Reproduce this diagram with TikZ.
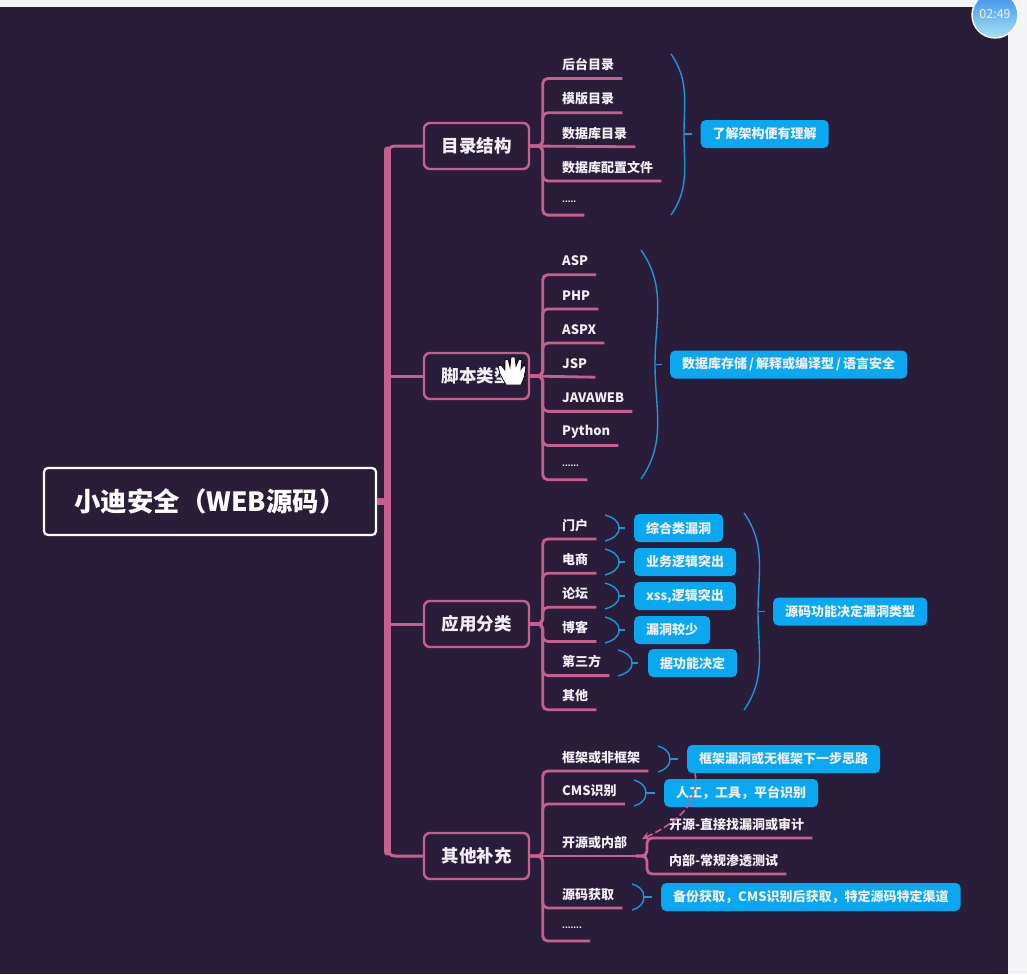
\documentclass[tikz,border=0pt]{standalone}
\usepackage{fontspec}
\setmainfont{Noto Sans CJK SC}
\usetikzlibrary{positioning, arrows.meta}
\definecolor{canvas}{HTML}{2A1D3A}
\definecolor{strip}{HTML}{F5F4F6}
\definecolor{rosy}{HTML}{C6618F}
\definecolor{sky}{HTML}{0AA8F0}
\definecolor{bracecol}{HTML}{1B97D8}
\definecolor{paper}{HTML}{F1EEF4}
\definecolor{badgetop}{HTML}{3A8CEA}
\definecolor{badgeend}{HTML}{A6E2F2}
\tikzset{
  root/.style={rectangle, rounded corners=4pt, draw=white, line width=2.2pt, minimum width=332pt, minimum height=67pt, text=white, font=\fontsize{26.4}{27}\selectfont\bfseries},
  hub/.style={rectangle, rounded corners=6pt, draw=rosy, line width=2.4pt, minimum width=105pt, minimum height=46pt, text=paper, font=\fontsize{17.5}{18}\selectfont\bfseries},
  leaf/.style={rectangle, anchor=south west, inner xsep=8pt, inner ysep=0pt, minimum height=27pt, text=paper, font=\fontsize{13}{13}\selectfont\bfseries},
  dots/.style={leaf, font=\fontsize{8}{8}\selectfont\bfseries},
  under/.style={below=6.75pt of #1.south west, anchor=north west},
  note/.style={rectangle, rounded corners=5pt, fill=sky, inner xsep=12pt, inner ysep=0pt, minimum height=28pt, text=paper, font=\fontsize{13}{13}\selectfont\bfseries},
  branch/.style={draw=rosy, line width=2.8pt, rounded corners=5pt},
  stem/.style={draw=rosy, line width=3pt, rounded corners=8pt},
  brace/.style={draw=bracecol, line width=1.4pt},
  bowl/.style={out=-55, in=90},
  bowr/.style={out=-90, in=55},
  arcl/.style={out=-15, in=90},
  arcr/.style={out=-90, in=15},
}
\begin{document}
\begin{tikzpicture}[x=1pt, y=1pt]
  \useasboundingbox (0,0) rectangle (1027,-974);
  \fill[strip] (0,0) rectangle (1027,-974);
  \fill[canvas] (0,-7) rectangle (1008,-974);

  % Centre and first level
  \node[root] (src) at (210,-501.5) {小迪安全（WEB源码）};
  \node[hub] (dirs) at (476.5,-146) {目录结构};
  \node[hub] (lang) at (476.5,-376) {脚本类型};
  \node[hub] (apps) at (476.5,-624) {应用分类};
  \node[hub] (misc) at (476.5,-856) {其他补充};

  % Trunk
  \coordinate (trunktop) at (387,-150);
  \coordinate (trunkend) at (387,-852);
  \draw[stem] (dirs.west) -- (387,-146) -- (trunkend);
  \draw[stem] (misc.west) -- (387,-856) -- (trunktop);
  \draw[stem] (lang.west) -- (387,-376);
  \draw[stem] (apps.west) -- (387,-624);
  \draw[rosy, line width=7pt, line cap=round] (trunktop) -- (trunkend);
  \draw[rosy, line width=7pt] (src.east) -- (387,-501.5);

  % Directory leaves
  \node[leaf] (d1) at (554,-78.5) {后台目录};
  \node[leaf, under=d1] (d2) {模版目录};
  \node[leaf, under=d2] (d3) {数据库目录};
  \node[leaf, under=d3] (d4) {数据库配置文件};
  \node[dots, under=d4] (d5) {.....};
  \foreach \n in {d1,d2,d4,d5}
    \draw[branch] (dirs.east) -- ++(12.5,0) |- (\n.south east);
  \draw[branch] (dirs.east) -- (d3.south east);

  % Script leaves
  \node[leaf] (s1) at (554,-274.75) {ASP};
  \node[leaf, under=s1] (s2) {PHP};
  \node[leaf, under=s2] (s3) {ASPX};
  \node[leaf, under=s3] (s4) {JSP};
  \node[leaf, under=s4] (s5) {JAVAWEB};
  \node[leaf, under=s5] (s6) {Python};
  \node[dots, under=s6] (s7) {......};
  \foreach \n in {s1,s2,s3,s5,s6,s7}
    \draw[branch] (lang.east) -- ++(12.5,0) |- (\n.south east);
  \draw[branch] (lang.east) -- (s4.south east);

  % Application leaves
  \node[leaf] (a1) at (554,-539) {门户};
  \node[leaf, under=a1] (a2) {电商};
  \node[leaf, under=a2] (a3) {论坛};
  \node[leaf, under=a3] (a4) {博客};
  \node[leaf, under=a4] (a5) {第三方};
  \node[leaf, under=a5] (a6) {其他};
  \foreach \n in {a1,a2,a3,a4,a5,a6}
    \draw[branch] (apps.east) -- ++(12.5,0) |- (\n.south east);

  % Other leaves
  \node[leaf] (m1) at (554,-771) {框架或非框架};
  \node[leaf] (m2) at (554,-804) {CMS识别};
  \node[leaf] (m3) at (554,-856) {开源或内部};
  \node[leaf] (m4) at (554,-908) {源码获取};
  \node[dots] (m5) at (554,-941) {.......};
  \foreach \n in {m1,m2,m4,m5}
    \draw[branch] (misc.east) -- ++(12.5,0) |- (\n.south east);
  \draw[branch] (misc.east) -- (m3.south east);
  \node[leaf] (o1) at (661,-838) {开源-直接找漏洞或审计};
  \node[leaf] (o2) at (661,-874) {内部-常规渗透测试};
  \draw[branch] (m3.south east) -- (647,-856) |- (o1.south east);
  \draw[branch] (m3.south east) -- (647,-856) |- (o2.south east);

  % Summaries of whole groups
  \draw[brace] (671,-54) to[bowl] (684,-134) coordinate (bd) to[bowr] (671,-215);
  \node[note, right=16.5pt of bd] (nd) {了解架构便有理解};
  \draw[brace, shorten >=9pt] (bd) -- (nd);
  \draw[brace] (641,-250) to[bowl] (655,-364.5) coordinate (bs) to[bowr] (641,-479);
  \node[note, right=15pt of bs] (ns) {数据库存储\kern2pt/\kern2pt解释或编译型\kern2pt/\kern2pt语言安全};
  \draw[brace, shorten >=8pt] (bs) -- (ns);
  \draw[brace] (744,-513) to[bowl] (758,-611.5) coordinate (ba) to[bowr] (744,-710);
  \node[note, right=15pt of ba] (na) {源码功能决定漏洞类型};
  \draw[brace, shorten >=8pt] (ba) -- (na);

  % Small summaries, application
  \draw[brace] (605,-515) to[arcl] (619,-528) coordinate (b1) to[arcr] (605,-541);
  \node[note, right=15pt of b1] (n1) {综合类漏洞};
  \draw[brace, shorten >=9pt] (b1) -- (n1);
  \draw[brace] (605,-549) to[arcl] (619,-562) coordinate (b2) to[arcr] (605,-575);
  \node[note, right=15pt of b2] (n2) {业务逻辑突出};
  \draw[brace, shorten >=9pt] (b2) -- (n2);
  \draw[brace] (605,-583) to[arcl] (619,-596) coordinate (b3) to[arcr] (605,-609);
  \node[note, right=15pt of b3] (n3) {xss,逻辑突出};
  \draw[brace, shorten >=9pt] (b3) -- (n3);
  \draw[brace] (605,-617) to[arcl] (619,-630) coordinate (b4) to[arcr] (605,-643);
  \node[note, right=15pt of b4] (n4) {漏洞较少};
  \draw[brace, shorten >=9pt] (b4) -- (n4);
  \draw[brace] (618,-650) to[arcl] (632,-663) coordinate (b5) to[arcr] (618,-676);
  \node[note, right=16pt of b5] (n5) {据功能决定};
  \draw[brace, shorten >=10pt] (b5) -- (n5);

  % Small summaries, other
  \draw[brace] (658,-746) to[arcl] (670,-759) coordinate (b6) to[arcr] (658,-772);
  \node[note, right=17pt of b6] (n6) {框架漏洞或无框架下一步思路};
  \draw[brace, shorten >=9pt] (b6) -- (n6);
  \draw[brace] (634,-780) to[arcl] (646,-793) coordinate (b7) to[arcr] (634,-806);
  \node[note, right=18pt of b7] (n7) {人工，工具，平台识别};
  \draw[brace, shorten >=9pt] (b7) -- (n7);
  \draw[brace] (632,-884) to[arcl] (644,-897) coordinate (b8) to[arcr] (632,-910);
  \node[note, right=17pt of b8] (n8) {备份获取，CMS识别后获取，特定源码特定渠道};
  \draw[brace, shorten >=9pt] (b8) -- (n8);

  % Dashed link
  \coordinate (linkend) at (642,-839);
  \draw[rosy, line width=1.6pt, dash pattern=on 7pt off 3pt, -{Stealth[length=8pt,width=8pt]}] ([xshift=8pt]n6.south west) to[out=-80,in=25] (linkend);

  % Timer badge
  \shade[top color=badgetop, bottom color=badgeend, draw=white, line width=1.4pt] (995,-15) circle (23);
  \node[text=paper, font=\fontsize{12.5}{13}\selectfont] (clock) at (995,-14) {02:49};

  % Hand pointer
  \filldraw[fill=white, draw=black, line width=0.8pt] (506,-385) -- (500,-374) -- (498,-366) -- (501,-365) -- (505,-370) -- (505,-360) -- (508,-359) -- (510,-367) -- (511,-357) -- (515,-357) -- (516,-366) -- (519,-359) -- (522,-360) -- (521,-369) -- (524,-365) -- (526,-367) -- (524,-378) -- (521,-385) -- cycle;
\end{tikzpicture}
\end{document}
